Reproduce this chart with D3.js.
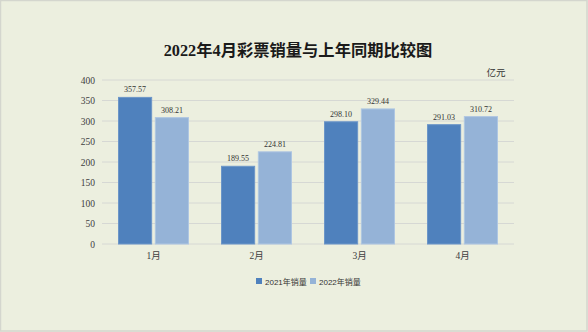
<!DOCTYPE html>
<html><head><meta charset="utf-8">
<script src="https://cdn.jsdelivr.net/npm/d3@7"></script>
<style>
html,body{margin:0;padding:0;background:#ECEFDF;}
svg{display:block;}
</style></head>
<body>
<svg id="chart" width="588" height="332"></svg>
<script>
const categories = ["1月","2月","3月","4月"];
const seriesNames = ["2021年销量","2022年销量"];
const sales2021 = [357.57, 189.55, 298.10, 291.03];
const sales2022 = [308.21, 224.81, 329.44, 310.72];
const yTicks = [0,50,100,150,200,250,300,350,400];
const colors = ["#4F81BD","#95B3D7"];
const strokeColors = ["#6C96C8","#AEC6E2"];

(function(){
const svg = d3.select("#chart");
const W = 588, H = 332;
svg.append("rect").attr("x",0.5).attr("y",0.5).attr("width",W-1.5).attr("height",H-1.5)
  .attr("fill","#ECEFDF").attr("stroke","#D4D6CE").attr("stroke-width",1.5);

const pLeft = 102, pRight = 514, pTop = 80, pBottom = 244;
const x = d3.scaleBand().domain(categories).range([pLeft,pRight]).paddingInner(0).paddingOuter(0);
const y = d3.scaleLinear().domain([0,400]).range([pBottom,pTop]);

svg.append("text").attr("x",298).attr("y",56).attr("text-anchor","middle")
  .attr("font-family","'Liberation Serif','Noto Sans CJK SC',serif").attr("font-weight","bold")
  .attr("font-size",16.3).attr("fill","#1a1a1a").text("2022年4月彩票销量与上年同期比较图");

svg.append("text").attr("x",496).attr("y",76).attr("text-anchor","middle")
  .attr("font-family","'Noto Sans CJK SC',sans-serif").attr("font-size",9.5).attr("fill","#333")
  .text("亿元");

svg.append("g").selectAll("line").data(yTicks).join("line")
  .attr("x1",pLeft).attr("x2",pRight).attr("y1",d=>y(d)).attr("y2",d=>y(d))
  .attr("stroke","#D6D8D4").attr("stroke-width",1);

const yAxis = d3.axisLeft(y).tickValues(yTicks).tickSize(0).tickPadding(7);
const gy = svg.append("g").attr("transform",`translate(${pLeft},0)`).call(yAxis);
gy.select(".domain").remove();
gy.selectAll("text").attr("font-family","'Liberation Serif',serif").attr("font-size",9.5).attr("fill","#404040");

const xAxis = d3.axisBottom(x).tickSize(0).tickPadding(8);
const gx = svg.append("g").attr("transform",`translate(0,${pBottom})`).call(xAxis);
gx.select(".domain").remove();
gx.selectAll("text").attr("font-family","'Liberation Serif','Noto Sans CJK SC',serif").attr("font-size",9.5).attr("fill","#404040");

const sub = d3.scaleBand().domain([0,1]).range([0,70]).paddingInner(0.1);
const bw = sub.bandwidth();
const series = [sales2021, sales2022];
series.forEach((vals,si)=>{
  const g = svg.append("g");
  g.selectAll("rect").data(vals).join("rect")
    .attr("x",(d,i)=>x(categories[i]) + x.bandwidth()/2 - 35 + sub(si))
    .attr("y",d=>y(d)).attr("width",bw).attr("height",d=>pBottom - y(d))
    .attr("fill",colors[si]).attr("stroke",strokeColors[si]).attr("stroke-width",1);
  g.selectAll("text").data(vals).join("text")
    .attr("x",(d,i)=>x(categories[i]) + x.bandwidth()/2 - 35 + sub(si) + bw/2)
    .attr("y",d=>y(d)-5).attr("text-anchor","middle")
    .attr("font-family","'Liberation Serif',serif").attr("font-size",8).attr("fill","#333")
    .text(d=>d.toFixed(2));
});

const legend = svg.append("g");
const lx = [256, 310];
seriesNames.forEach((n,i)=>{
  legend.append("rect").attr("x",lx[i]).attr("y",278).attr("width",6).attr("height",6).attr("fill",colors[i]);
  legend.append("text").attr("x",lx[i]+9).attr("y",284.5)
    .attr("font-family","'Liberation Sans','Noto Sans CJK SC',sans-serif").attr("font-size",8).attr("fill","#333")
    .text(n);
});
})();
</script>
</body></html>
